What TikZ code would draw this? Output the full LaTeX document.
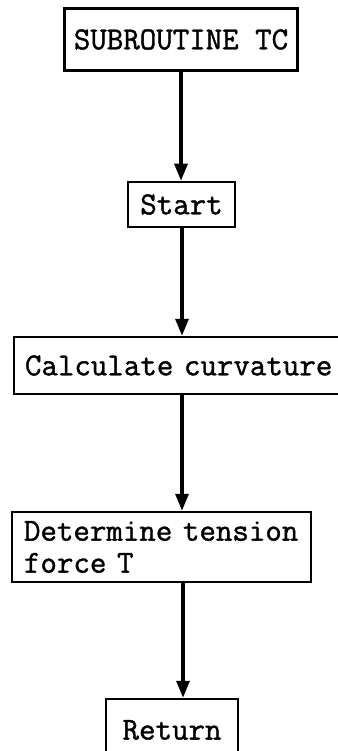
\documentclass[tikz,border=0pt]{standalone}
\usepackage{fontspec}
\newfontfamily\typefont[FakeBold=1.2]{Latin Modern Mono}
\usetikzlibrary{arrows.meta}
\begin{document}
\begin{tikzpicture}[x=1pt,y=-1pt,
  box/.style={draw=black, line width=2.5pt, inner sep=0pt, font=\typefont\fontsize{32}{32}\selectfont},
  flow/.style={line width=3.2pt, -{Triangle[length=17pt,width=13pt]}}]
\useasboundingbox (0,0) rectangle (337,751);
\fill[white] (0,0) rectangle (337,751);
\node[box, minimum width=233pt, minimum height=62pt] (sub) at (181,39.5) {SUBROUTINE TC};
\node[box, minimum width=107pt, minimum height=45pt] (start) at (181.5,204.5) {Start};
\node[box, minimum width=331pt, minimum height=57pt, text width=331pt, align=left] (calc) at (179.5,365.5) {\hspace*{11pt}Calculate curvature};
\node[box, minimum width=299pt, minimum height=70pt, text width=299pt, align=left] (det) at (161.5,547) {\hspace*{12pt}Determine tension\\\hspace*{12pt}force T};
\node[box, minimum width=132pt, minimum height=62pt] (ret) at (172,730) {Return};
\coordinate (a1) at (181,0);
\coordinate (a2) at (182,0);
\coordinate (a3) at (182,0);
\coordinate (a4) at (183,0);
\draw[flow] (a1 |- sub.south) -- (a1 |- start.north);
\draw[flow] (a2 |- start.south) -- (a2 |- calc.north);
\draw[flow] (a3 |- calc.south) -- (a3 |- det.north);
\draw[flow] (a4 |- det.south) -- (a4 |- ret.north);
\end{tikzpicture}
\end{document}
